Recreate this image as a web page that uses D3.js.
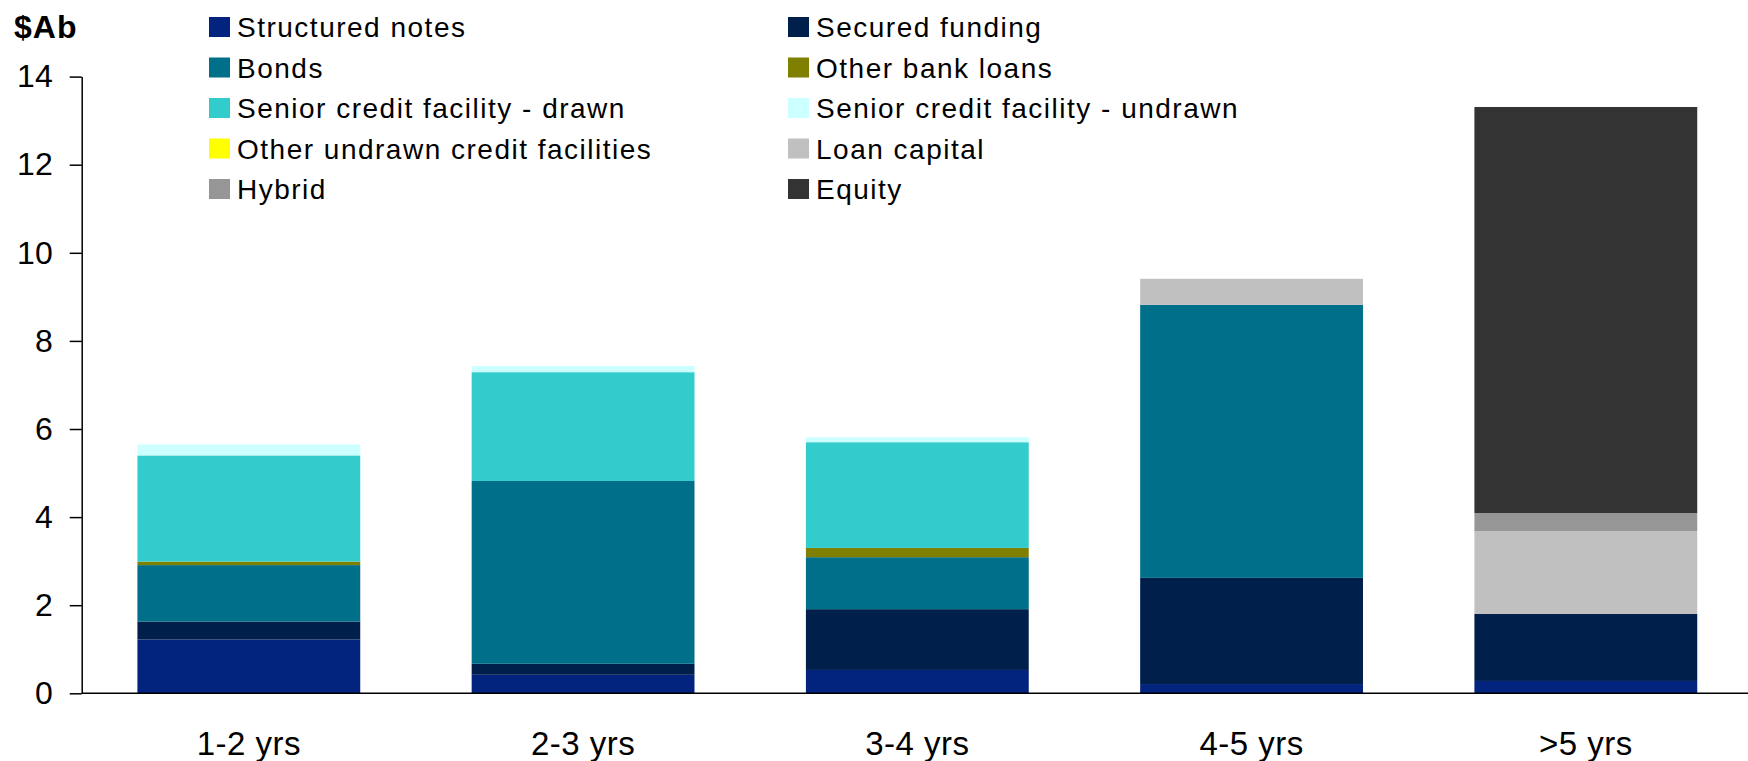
<!DOCTYPE html>
<html>
<head>
<meta charset="utf-8">
<script src="https://cdn.jsdelivr.net/npm/d3@7"></script>
<style>
  html, body { margin: 0; padding: 0; background: #fff; }
  svg { display: block; font-family: Arial, "Liberation Sans", sans-serif; }
</style>
</head>
<body>
<svg id="chart" width="1748" height="761"></svg>
<script>
// Maturity buckets
const categories = ["1-2 yrs", "2-3 yrs", "3-4 yrs", "4-5 yrs", ">5 yrs"];

// Funding sources by maturity, $A billions (bottom to top of each stack)
const structuredNotes       = [1.22, 0.42, 0.53, 0.21, 0.28];
const securedFunding        = [0.41, 0.25, 1.38, 2.41, 1.52];
const bonds                 = [1.28, 4.15, 1.18, 6.20, 0.00];
const otherBankLoans        = [0.08, 0.00, 0.21, 0.00, 0.00];
const seniorDrawn           = [2.41, 2.47, 2.40, 0.00, 0.00];
const seniorUndrawn         = [0.25, 0.14, 0.11, 0.00, 0.00];
const otherUndrawn          = [0.00, 0.00, 0.00, 0.00, 0.00];
const loanCapital           = [0.00, 0.00, 0.00, 0.59, 1.88];
const hybrid                = [0.00, 0.00, 0.00, 0.00, 0.41];
const equity                = [0.00, 0.00, 0.00, 0.00, 9.22];

const yTicks = [0, 2, 4, 6, 8, 10, 12, 14];

const series = [
  { name: "Structured notes", values: structuredNotes, color: "#02247E" },
  { name: "Secured funding", values: securedFunding, color: "#001F4B" },
  { name: "Bonds", values: bonds, color: "#00708A" },
  { name: "Other bank loans", values: otherBankLoans, color: "#808000" },
  { name: "Senior credit facility - drawn", values: seniorDrawn, color: "#33CCCC" },
  { name: "Senior credit facility - undrawn", values: seniorUndrawn, color: "#CCFFFF" },
  { name: "Other undrawn credit facilities", values: otherUndrawn, color: "#FFFF00" },
  { name: "Loan capital", values: loanCapital, color: "#C0C0C0" },
  { name: "Hybrid", values: hybrid, color: "#969696" },
  { name: "Equity", values: equity, color: "#333333" }
];

const svg = d3.select("#chart");
const plotLeft = 81.7, plotBottom = 693.3, plotTop = 76.6;
const step = 334.25;

const x = d3.scaleBand()
  .domain(categories)
  .range([plotLeft, plotLeft + step * categories.length])
  .paddingInner(1 / 3)
  .paddingOuter(1 / 6);

const y = d3.scaleLinear().domain([0, 14]).range([plotBottom, plotTop]);

// Build a stack table from the named arrays
const table = categories.map((c, i) => {
  const row = { category: c };
  series.forEach(s => { row[s.name] = s.values[i]; });
  return row;
});
const stacked = d3.stack().keys(series.map(s => s.name))(table);

svg.append("g")
  .selectAll("g")
  .data(stacked)
  .join("g")
  .attr("fill", (d, i) => series[i].color)
  .selectAll("rect")
  .data(d => d)
  .join("rect")
  .attr("x", d => x(d.data.category))
  .attr("width", x.bandwidth())
  .attr("y", d => y(d[1]))
  .attr("height", d => y(d[0]) - y(d[1]));

// Y axis
const yAxis = svg.append("g")
  .attr("transform", `translate(${plotLeft},0)`)
  .call(d3.axisLeft(y).tickValues(yTicks).tickFormat(d3.format("d"))
    .tickSize(12).tickSizeOuter(0).tickPadding(17));
yAxis.select(".domain").attr("stroke", "#000").attr("stroke-width", 1.5);
yAxis.selectAll(".tick line").attr("stroke", "#000").attr("stroke-width", 1.5);
yAxis.selectAll(".tick text").attr("font-size", 32).attr("fill", "#000")
  .attr("font-family", "Arial, 'Liberation Sans', sans-serif");

// X axis
const xAxis = svg.append("g")
  .attr("transform", `translate(0,${plotBottom})`)
  .call(d3.axisBottom(x).tickSize(0).tickPadding(38));
xAxis.select(".domain").attr("d", `M${plotLeft},0H1748`).attr("stroke", "#000").attr("stroke-width", 1.5);
xAxis.selectAll(".tick text").attr("font-size", 33).attr("fill", "#000")
  .attr("letter-spacing", 0.5)
  .attr("font-family", "Arial, 'Liberation Sans', sans-serif");

// Unit label
svg.append("text")
  .attr("x", 14).attr("y", 38)
  .attr("font-size", 32).attr("font-weight", "bold")
  .attr("letter-spacing", 1)
  .text("$Ab");

// Legend: two columns, row-major order
const colX = [209, 788];
const rowY0 = 27, rowStep = 40.5;
const legend = svg.append("g");
series.forEach((s, i) => {
  const col = i % 2, row = Math.floor(i / 2);
  const g = legend.append("g")
    .attr("transform", `translate(${colX[col]},${rowY0 + row * rowStep})`);
  g.append("rect").attr("x", 0).attr("y", -10).attr("width", 21).attr("height", 20)
    .attr("fill", s.color);
  g.append("text").attr("x", 28).attr("y", 0).attr("dy", "0.36em")
    .attr("font-size", 28).attr("letter-spacing", 1.5).attr("fill", "#000")
    .text(s.name);
});
</script>
</body>
</html>
